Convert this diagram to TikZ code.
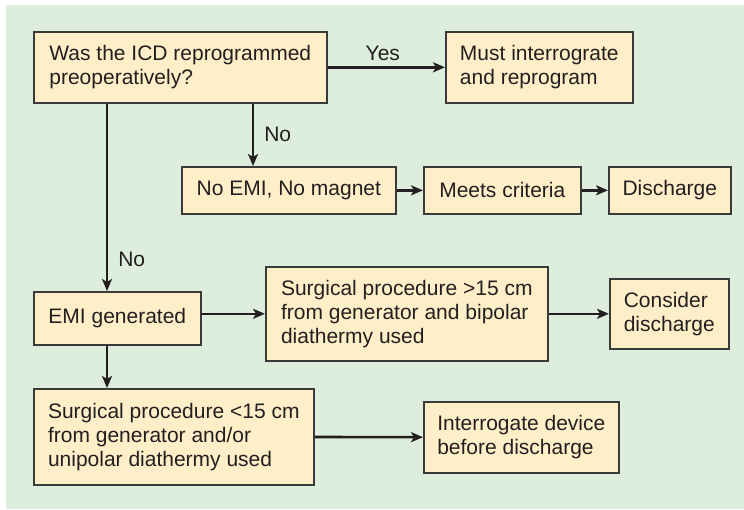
\documentclass[tikz,border=0pt]{standalone}
\usepackage{fontspec}
\setmainfont{Liberation Sans}
\usepackage{tikz}
\usetikzlibrary{arrows.meta,positioning,calc}
\usepackage{xcolor}
\definecolor{bggreen}{HTML}{DDEEDC}
\definecolor{boxfill}{HTML}{FFEFC8}
\definecolor{boxline}{HTML}{3A3A3A}
\definecolor{inkcolor}{HTML}{231F20}

\tikzset{
  flowbox/.style={draw=boxline, fill=boxfill, line width=1.6pt, inner xsep=6pt, inner ysep=0pt,
    align=left, anchor=north west, text=inkcolor, font=\fontsize{21}{24}\selectfont},
  flow/.style={draw=inkcolor, line width=2.6pt, -{Stealth[length=12pt, width=10pt, inset=3pt]}},
  flowlabel/.style={text=inkcolor, font=\fontsize{21}{24}\selectfont, inner sep=2pt}
}

\begin{document}
\begin{tikzpicture}[x=1pt, y=-1pt]
  % Background panel
  \useasboundingbox (0,0) rectangle (744,509);
  \fill[bggreen] (6,5) rectangle (744,509);

  % Boxes
  \node[flowbox, minimum width=293, minimum height=71] (q) at (33,31) {Was the ICD reprogrammed\\preoperatively?};
  \node[flowbox, minimum width=187, minimum height=71] (must) at (445,31) {Must interrograte\\and reprogram};
  \node[flowbox, minimum width=214, minimum height=47] (noemi) at (181,166) {No EMI, No magnet};
  \node[flowbox, minimum width=157, minimum height=47] (meets) at (423,166) {Meets criteria};
  \node[flowbox, minimum width=122, minimum height=47] (disch) at (608,166) {Discharge};
  \node[flowbox, minimum width=167, minimum height=53] (emi) at (33,291) {EMI generated};
  \node[flowbox, minimum width=282, minimum height=94] (surgfar) at (265,266) {Surgical procedure >15 cm\\from generator and bipolar\\diathermy used};
  \node[flowbox, minimum width=119, minimum height=70] (consider) at (609,278) {Consider\\discharge};
  \node[flowbox, minimum width=280, minimum height=96] (surgnear) at (33,388) {Surgical procedure <15 cm\\from generator and/or\\unipolar diathermy used};
  \node[flowbox, minimum width=195, minimum height=71] (interr) at (423,401) {Interrogate device\\before discharge};

  % Connectors
  \draw[flow] (q) -- node[flowlabel, above=3pt, pos=0.47] (yes) {Yes} (must);
  \path (q.south west) ++(220,0) coordinate (qmid);
  \draw[flow] (qmid) -- node[flowlabel, right=8pt] (no1) {No} (qmid |- noemi.north);
  \draw[flow] (noemi) -- (meets);
  \draw[flow] (meets) -- (disch);
  \path (q.south west) ++(74,0) coordinate (qleft);
  \draw[flow] (qleft) -- node[flowlabel, right=8pt, pos=0.83] (no2) {No} (qleft |- emi.north);
  \draw[flow] (surgfar.west -| emi.east) -- (surgfar.west);
  \draw[flow] (surgfar) -- (consider);
  \path (emi.south west) ++(74,0) coordinate (emileft);
  \draw[flow] (emileft) -- (emileft |- surgnear.north);
  \draw[flow] (surgnear) -- (interr);
\end{tikzpicture}
\end{document}
